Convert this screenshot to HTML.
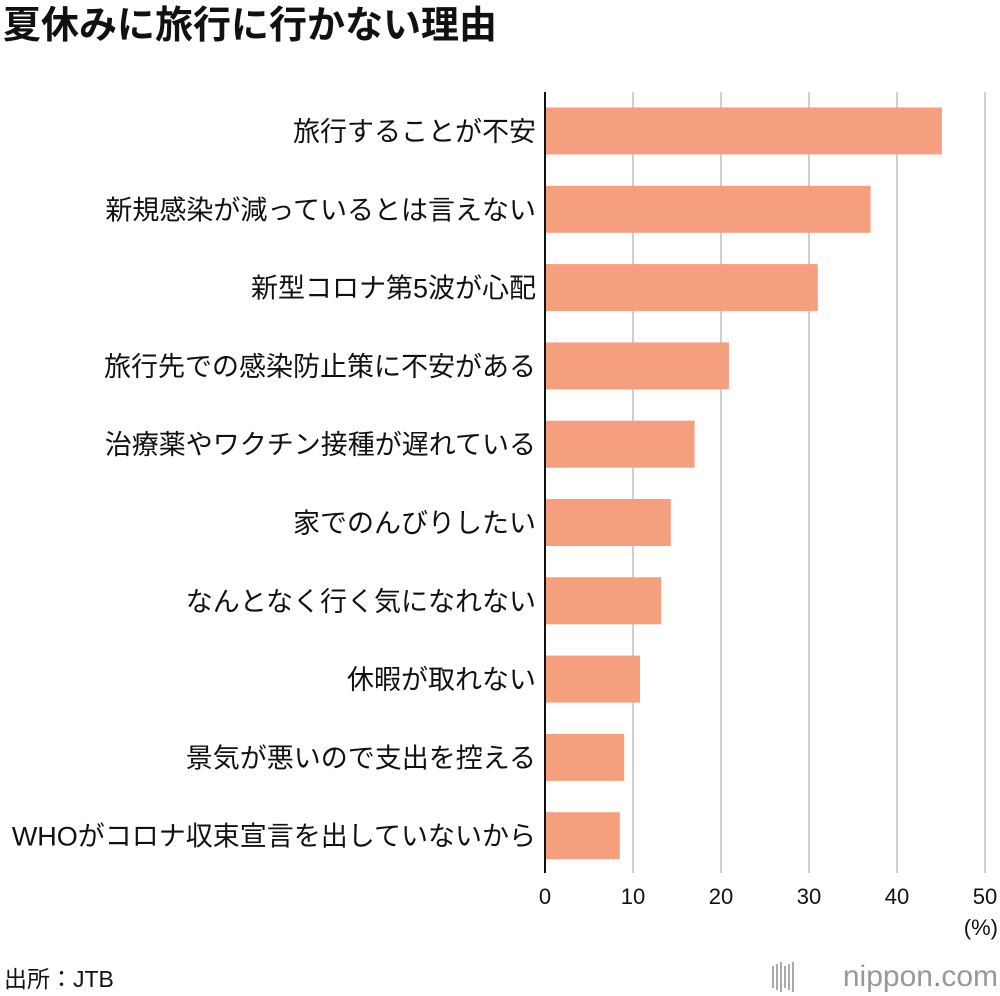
<!DOCTYPE html>
<html><head><meta charset="utf-8">
<style>
body{margin:0;background:#fff;font-family:"Liberation Sans","Noto Sans CJK JP",sans-serif;}
#wrap{position:relative;width:1000px;height:996px;overflow:hidden;}
</style></head>
<body>
<div id="wrap">
<svg id="chart" width="1000" height="996"></svg>
</div>
<script>
const categories=["旅行することが不安","新規感染が減っているとは言えない","新型コロナ第5波が心配","旅行先での感染防止策に不安がある","治療薬やワクチン接種が遅れている","家でのんびりしたい","なんとなく行く気になれない","休暇が取れない","景気が悪いので支出を控える","WHOがコロナ収束宣言を出していないから"];
const values=[45.1,37.0,31.0,20.9,17.0,14.3,13.2,10.8,9.0,8.5];
const ticks=[0,10,20,30,40,50];
const NS="http://www.w3.org/2000/svg";
const svg=document.getElementById('chart');
const x0=545,x1=985,vmax=50;
const xs=v=>x0+(x1-x0)*v/vmax;
const yTop=92,step=78.3,barH=47;
const yc=i=>131+i*step;
function mk(t,a){const e=document.createElementNS(NS,t);for(const k in a)e.setAttribute(k,a[k]);svg.appendChild(e);return e;}
let t=mk('text',{x:3,y:38,'font-size':38,'font-weight':'bold',fill:'#111'});t.textContent="夏休みに旅行に行かない理由";


ticks.forEach(v=>{
 if(v>0){const g=mk('line',{x1:xs(v),x2:xs(v),y1:yTop,y2:873,stroke:'#cfcfcf','stroke-width':2});
 
 }
 const l=mk('text',{x:xs(v),y:904,'font-size':22,'text-anchor':'middle',fill:'#111'});l.textContent=v;
 
 
});
values.forEach((v,i)=>{
 const r=mk('rect',{x:x0,y:yc(i)-barH/2,width:xs(v)-x0,height:barH,fill:'#f59f7e'});
 
 
 const l=mk('text',{x:536,y:yc(i)+10,'font-size':27,'text-anchor':'end',fill:'#111'});l.textContent=categories[i];
 
 
});
const ax=mk('line',{x1:x0,x2:x0,y1:yTop,y2:873,stroke:'#111','stroke-width':2});


t=mk('text',{x:998,y:935,'font-size':22,'text-anchor':'end',fill:'#111'});t.textContent="(%)";


t=mk('text',{x:4,y:987,'font-size':23,fill:'#111'});t.textContent="出所：JTB";


for(let k=0;k<6;k++){const b=mk('rect',{x:772+k*4,y:966-(k%3)*2,width:2,height:22+(k%3)*4,fill:'#aaa'});

}
t=mk('text',{x:998,y:986,'font-size':30,'text-anchor':'end',fill:'#999'});
t.innerHTML='nippon<tspan fill="#e06040">.</tspan>com';


</script>
</body></html>
